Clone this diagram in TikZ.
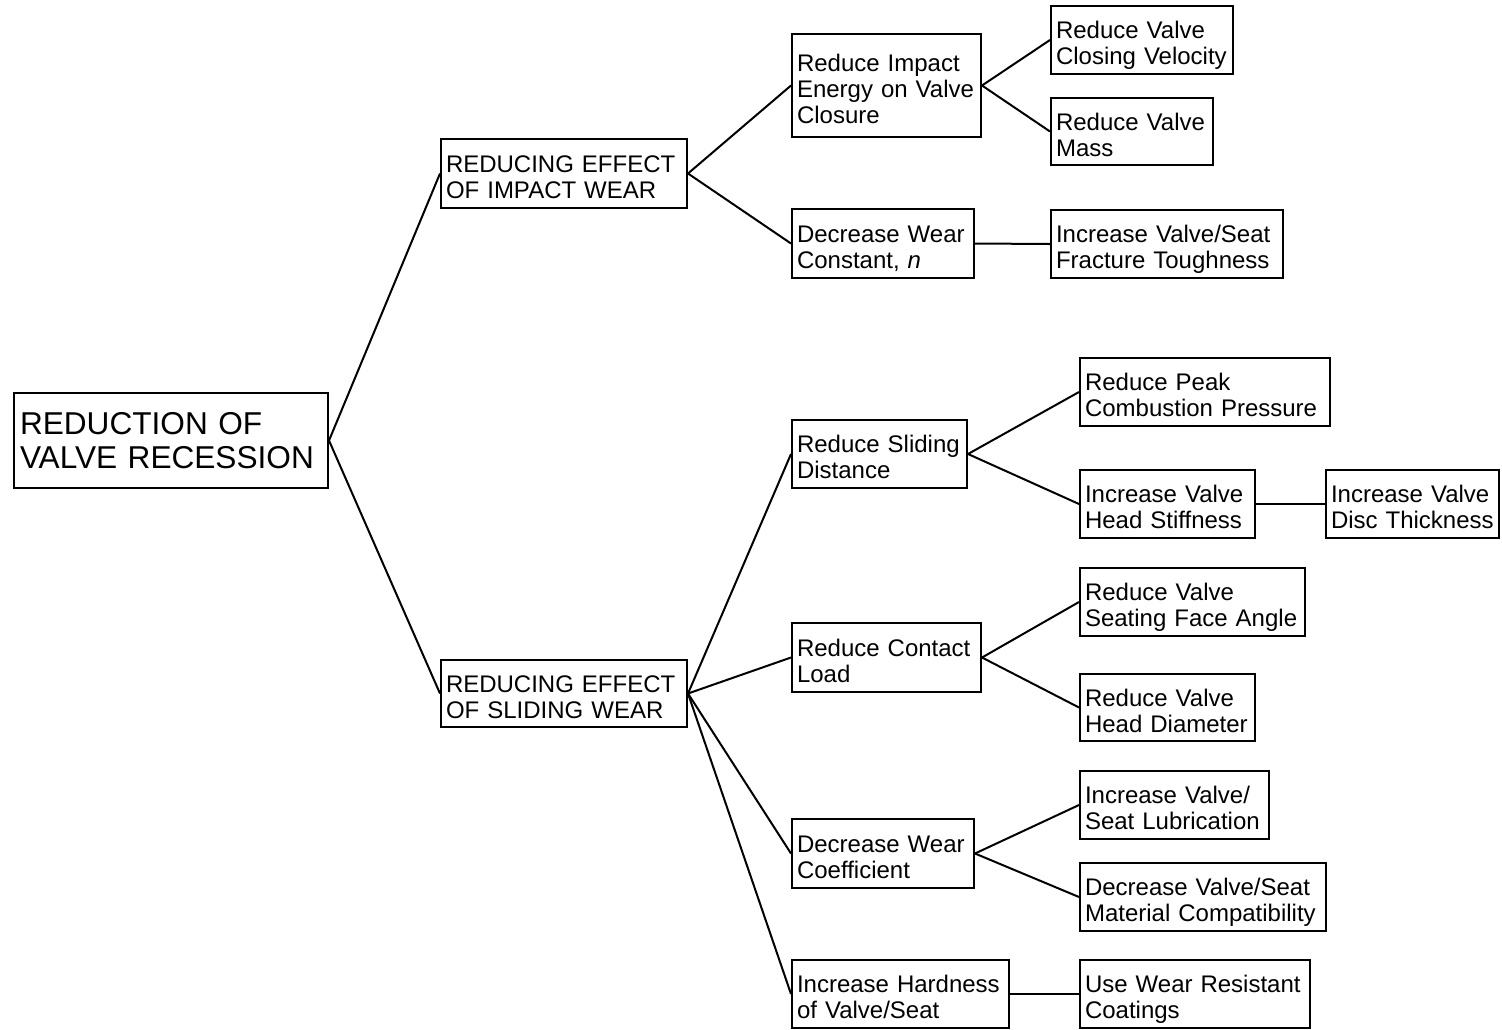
\documentclass[tikz,border=0pt]{standalone}
\usepackage{fontspec}
\setmainfont{Liberation Sans}
\usepackage{tikz}
\usetikzlibrary{positioning}
\newcommand{\boxfont}{\fontsize{24}{26}\selectfont}
\newcommand{\rootfont}{\fontsize{31.6}{34}\selectfont}

\begin{document}
\begin{tikzpicture}[x=1pt, y=-1pt, font=\boxfont,
		box/.style={draw, line width=2pt, anchor=north west, align=left, inner xsep=5pt, inner ysep=0pt},
		lowtext/.style={execute at begin node={\rule{0pt}{29pt}}, execute at end node={\rule[-6pt]{0pt}{6pt}}},
		link/.style={line width=2pt}]
		\useasboundingbox (0,0) rectangle (1502,1029);

		% Root
		\node (root) at (13,392) [box, font=\rootfont, inner xsep=6pt, text width=302pt, minimum height=95pt] {REDUCTION OF\\VALVE RECESSION};

		% Impact wear branch
		\node (impact) at (440,138) [box, lowtext, text width=236pt, minimum height=69pt] {REDUCING EFFECT\\OF IMPACT WEAR};
		\node (rimp) at (791,33) [box, lowtext, text width=179pt, minimum height=103pt] {Reduce Impact\\Energy on Valve\\Closure};
		\node (dwn) at (791,208) [box, lowtext, text width=172pt, minimum height=69pt] {Decrease Wear\\Constant, \textit{n}};
		\node (close) at (1050,5) [box, lowtext, text width=172pt, minimum height=68pt] {Reduce Valve\\Closing Velocity};
		\node (mass) at (1050,97) [box, lowtext, text width=152pt, minimum height=67pt] {Reduce Valve\\Mass};
		\node (tough) at (1050,209) [box, lowtext, text width=222pt, minimum height=68pt] {Increase Valve/Seat\\Fracture Toughness};

		% Sliding wear branch
		\node (slide) at (440,659) [box, lowtext, text width=236pt, minimum height=67pt] {REDUCING EFFECT\\OF SLIDING WEAR};
		\node (sdist) at (791,419) [box, lowtext, text width=165pt, minimum height=68pt] {Reduce Sliding\\Distance};
		\node (peak) at (1079,357) [box, lowtext, text width=240pt, minimum height=68pt] {Reduce Peak\\Combustion Pressure};
		\node (stiff) at (1079,469) [box, lowtext, text width=165pt, minimum height=68pt] {Increase Valve\\Head Stiffness};
		\node (disc) at (1325,469) [box, lowtext, text width=163pt, minimum height=68pt] {Increase Valve\\Disc Thickness};
		\node (contact) at (791,622) [box, lowtext, text width=179pt, minimum height=69pt] {Reduce Contact\\Load};
		\node (angle) at (1079,567) [box, lowtext, text width=215pt, minimum height=68pt] {Reduce Valve\\Seating Face Angle};
		\node (diam) at (1079,673) [box, lowtext, text width=165pt, minimum height=67pt] {Reduce Valve\\Head Diameter};
		\node (coef) at (791,818) [box, lowtext, text width=172pt, minimum height=69pt] {Decrease Wear\\Coefficient};
		\node (lub) at (1079,770) [box, lowtext, text width=179pt, minimum height=68pt] {Increase Valve/\\Seat Lubrication};
		\node (compat) at (1079,862) [box, lowtext, text width=236pt, minimum height=68pt] {Decrease Valve/Seat\\Material Compatibility};
		\node (hard) at (791,959) [box, lowtext, text width=207pt, minimum height=68pt] {Increase Hardness\\of Valve/Seat};
		\node (coat) at (1079,959) [box, lowtext, text width=220pt, minimum height=68pt] {Use Wear Resistant\\Coatings};

		% Connectors
		\draw[link] (root.east) -- (impact.west); \draw[link] (root.east) -- (slide.west);
		\draw[link] (impact.east) -- (rimp.west); \draw[link] (impact.east) -- (dwn.west);
		\draw[link] (rimp.east) -- (close.west); \draw[link] (rimp.east) -- (mass.west);
		\draw[link] (dwn.east) -- (tough.west);
		\draw[link] (slide.east) -- (sdist.west); \draw[link] (slide.east) -- (contact.west);
		\draw[link] (slide.east) -- (coef.west); \draw[link] (slide.east) -- (hard.west);
		\draw[link] (sdist.east) -- (peak.west); \draw[link] (sdist.east) -- (stiff.west);
		\draw[link] (stiff.east) -- (disc.west);
		\draw[link] (contact.east) -- (angle.west); \draw[link] (contact.east) -- (diam.west);
		\draw[link] (coef.east) -- (lub.west); \draw[link] (coef.east) -- (compat.west);
		\draw[link] (hard.east) -- (coat.west);
	\end{tikzpicture}
\end{document}
